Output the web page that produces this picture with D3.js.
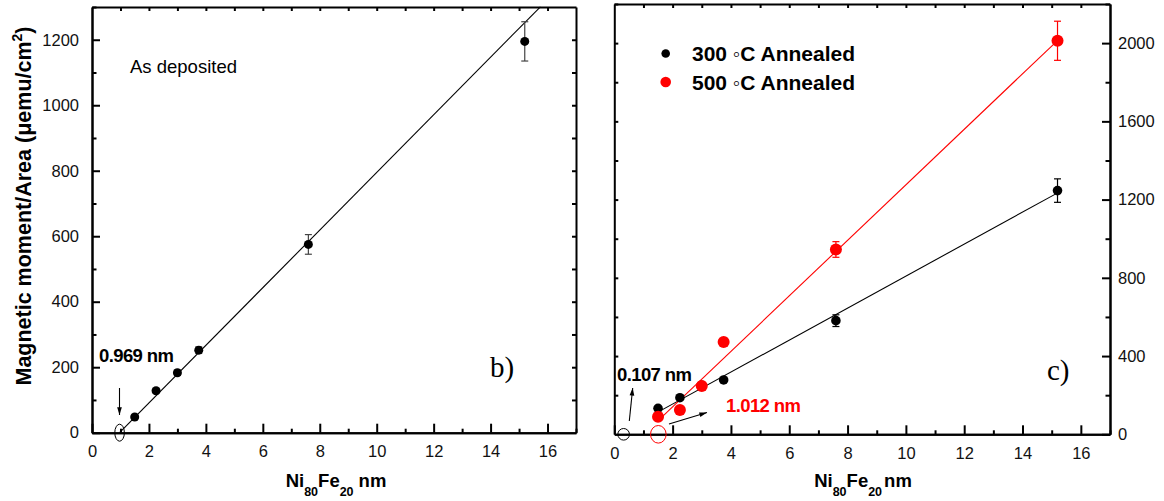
<!DOCTYPE html>
<html>
<head>
<meta charset="utf-8">
<script src="https://cdn.jsdelivr.net/npm/d3@7"></script>
<style>
body { margin: 0; background: #fff; }
svg { display: block; font-family: "Liberation Sans", Arial, sans-serif; }
.axis path, .axis line { stroke: #000; stroke-width: 2; }
.axis text { font-size: 16.5px; fill: #111; }
</style>
</head>
<body>
<svg width="1164" height="501"></svg>
<script>
// Ni80Fe20 thickness (nm) of the samples
var thickness = [1.5, 2.25, 3.0, 3.75, 7.6, 15.2];

// panel b) as deposited
var asDep = [48, 128, 183, 252, 575, 1195];
var asDepErr = [6, 6, 8, 10, 30, 60];

// panel c) annealed
var ann300 = [133, 187, 250, 278, 581, 1246];
var ann300Err = [8, 8, 10, 10, 30, 60];
var ann500 = [90, 124, 247, 472, 945, 2012];
var ann500Err = [8, 8, 10, 12, 40, 100];

// linear fits: x-intercept (dead layer) and slope
var fitAsDep = {x0: 0.969, slope: 88.0, from: 0.969, to: 15.75};
var fit300 = {x0: 0.107, slope: 81.75, from: 1.62, to: 15.19};
var fit500 = {x0: 1.012, slope: 141.9, from: 1.62, to: 15.19};

var xTicks = [0, 2, 4, 6, 8, 10, 12, 14, 16];
var leftTicks = [0, 200, 400, 600, 800, 1000, 1200];
var rightTicks = [0, 400, 800, 1200, 1600, 2000];

var svg = d3.select("svg");
var fmt = d3.format("d");

function range(a, b, s) { return d3.range(a, b + s / 2, s); }

function frame(x, y, opts) {
  var g = svg.append("g");
  var x0 = x.range()[0], x1 = x.range()[1], y0 = y.range()[0], y1 = y.range()[1];

  // bottom
  g.append("g").attr("class", "axis").attr("transform", "translate(0," + y0 + ")")
    .call(d3.axisBottom(x).tickValues(range(1, 17, 2)).tickSize(-4).tickSizeOuter(0).tickFormat(""));
  g.append("g").attr("class", "axis").attr("transform", "translate(0," + y0 + ")")
    .call(d3.axisBottom(x).tickValues(xTicks).tickSize(-9).tickSizeOuter(0).tickPadding(13).tickFormat(fmt));
  // top
  g.append("g").attr("class", "axis").attr("transform", "translate(0," + y1 + ")")
    .call(d3.axisTop(x).tickValues(range(1, 16, 1)).tickSize(-4).tickSizeOuter(0).tickFormat(""));

  if (opts.labelLeft) {
    g.append("g").attr("class", "axis").attr("transform", "translate(" + x0 + ",0)")
      .call(d3.axisLeft(y).tickValues(opts.minor).tickSize(-4.5).tickSizeOuter(0).tickFormat(""));
    g.append("g").attr("class", "axis").attr("transform", "translate(" + x0 + ",0)")
      .call(d3.axisLeft(y).tickValues(opts.major).tickSize(-8).tickSizeOuter(0).tickPadding(13).tickFormat(fmt));
    g.append("g").attr("class", "axis").attr("transform", "translate(" + x1 + ",0)")
      .call(d3.axisRight(y).tickValues(opts.all).tickSize(-4).tickSizeOuter(0).tickFormat(""));
  } else {
    g.append("g").attr("class", "axis").attr("transform", "translate(" + x0 + ",0)")
      .call(d3.axisLeft(y).tickValues(opts.all).tickSize(-4).tickSizeOuter(0).tickFormat(""));
    g.append("g").attr("class", "axis").attr("transform", "translate(" + x1 + ",0)")
      .call(d3.axisRight(y).tickValues(opts.minor).tickSize(-4.5).tickSizeOuter(0).tickFormat(""));
    g.append("g").attr("class", "axis").attr("transform", "translate(" + x1 + ",0)")
      .call(d3.axisRight(y).tickValues(opts.major).tickSize(-8).tickSizeOuter(0).tickPadding(8).tickFormat(fmt));
  }
}

function xLabel(cx, by, gap) {
  var t = svg.append("text").attr("x", cx).attr("y", by).attr("text-anchor", "middle")
    .style("font-size", "18.5px").style("font-weight", "bold");
  t.append("tspan").text("Ni");
  t.append("tspan").attr("dy", 9).style("font-size", "12.5px").text("80");
  t.append("tspan").attr("dy", -9).text("Fe");
  t.append("tspan").attr("dy", 9).style("font-size", "12.5px").text("20");
  t.append("tspan").attr("dy", -9).attr("dx", gap).text("nm");
}

function errBars(g, x, y, xs, ys, es, color) {
  xs.forEach(function(d, i) {
    var cx = x(d), top = y(ys[i] + es[i]), bot = y(ys[i] - es[i]);
    g.append("line").attr("x1", cx).attr("x2", cx).attr("y1", top).attr("y2", bot)
      .attr("stroke", color).attr("stroke-width", 1.2);
    [top, bot].forEach(function(v) {
      g.append("line").attr("x1", cx - 3.5).attr("x2", cx + 3.5).attr("y1", v).attr("y2", v)
        .attr("stroke", color).attr("stroke-width", 1.2);
    });
  });
}

function fitLine(g, x, y, fit, color) {
  g.append("line")
    .attr("x1", x(fit.from)).attr("y1", y(fit.slope * (fit.from - fit.x0)))
    .attr("x2", x(fit.to)).attr("y2", y(fit.slope * (fit.to - fit.x0)))
    .attr("stroke", color).attr("stroke-width", 1.1);
}

function dots(g, x, y, xs, ys, r, color) {
  g.selectAll(null).data(xs).enter().append("circle")
    .attr("cx", function(d) { return x(d); })
    .attr("cy", function(d, i) { return y(ys[i]); })
    .attr("r", r).attr("fill", color);
}

function arrow(x1, y1, x2, y2) {
  svg.append("line").attr("x1", x1).attr("y1", y1).attr("x2", x2).attr("y2", y2)
    .attr("stroke", "#000").attr("stroke-width", 1.1);
  var a = Math.atan2(y2 - y1, x2 - x1), L = 8, w = 0.3;
  svg.append("path")
    .attr("d", "M" + x2 + "," + y2 +
      "L" + (x2 - L * Math.cos(a - w)) + "," + (y2 - L * Math.sin(a - w)) +
      "L" + (x2 - L * Math.cos(a + w)) + "," + (y2 - L * Math.sin(a + w)) + "Z")
    .attr("fill", "#000");
}

function note(x, y, text, color) {
  svg.append("text").attr("x", x).attr("y", y).attr("fill", color)
    .style("font-size", "18.5px").style("font-weight", "bold")
    .style("letter-spacing", "-0.6px").text(text);
}

// ---------- panel b ----------
var xb = d3.scaleLinear().domain([0, 17]).range([92, 576]);
var yb = d3.scaleLinear().domain([0, 1300]).range([432.7, 7]);

frame(xb, yb, {labelLeft: true, major: leftTicks, minor: range(100, 1300, 200), all: range(100, 1200, 100)});

var gb = svg.append("g");
fitLine(gb, xb, yb, fitAsDep, "#000");
errBars(gb, xb, yb, thickness, asDep, asDepErr, "#444");
dots(gb, xb, yb, thickness, asDep, 4.5, "#000");

svg.append("ellipse").attr("cx", xb(0.969)).attr("cy", yb(0)).attr("rx", 4.8).attr("ry", 8.5)
  .attr("fill", "none").attr("stroke", "#000").attr("stroke-width", 1);
arrow(119.5, 388, 119.5, 415);

note(99, 361.5, "0.969 nm", "#000");
svg.append("text").attr("x", 130).attr("y", 73).style("font-size", "18.5px").text("As deposited");
svg.append("text").attr("x", 490).attr("y", 377).style("font-family", "'Liberation Serif', 'Times New Roman', serif")
  .style("font-size", "29px").text("b)");

var yl = svg.append("text").attr("transform", "translate(31,206) rotate(-90)").attr("text-anchor", "middle")
  .style("font-size", "21.5px").style("font-weight", "bold");
yl.append("tspan").text("Magnetic moment/Area (\u03bcemu/cm");
yl.append("tspan").attr("dy", -9).style("font-size", "14px").text("2");
yl.append("tspan").attr("dy", 9).text(")");

xLabel(336, 487, 5);

// ---------- panel c ----------
var xc = d3.scaleLinear().domain([0, 17]).range([614.3, 1110]);
var yc = d3.scaleLinear().domain([0, 2200]).range([434.3, 4]);

frame(xc, yc, {labelLeft: false, major: rightTicks, minor: range(200, 2200, 400), all: range(200, 2200, 200)});

var gc = svg.append("g");
fitLine(gc, xc, yc, fit300, "#000");
fitLine(gc, xc, yc, fit500, "#ff0000");
errBars(gc, xc, yc, thickness, ann300, ann300Err, "#000");
errBars(gc, xc, yc, thickness, ann500, ann500Err, "#ff0000");
dots(gc, xc, yc, thickness, ann300, 4.8, "#000");
dots(gc, xc, yc, thickness, ann500, 6, "#ff0000");

svg.append("circle").attr("cx", xc(0.32)).attr("cy", yc(0)).attr("r", 5.8)
  .attr("fill", "none").attr("stroke", "#000").attr("stroke-width", 1);
svg.append("ellipse").attr("cx", xc(1.51)).attr("cy", yc(0)).attr("rx", 7.8).attr("ry", 8.8)
  .attr("fill", "none").attr("stroke", "#ff0000").attr("stroke-width", 1);
arrow(629.3, 421, 632.7, 388);
arrow(669, 424, 707, 412.5);

note(617, 381, "0.107 nm", "#000");
note(726, 412, "1.012 nm", "#ff0000");
svg.append("text").attr("x", 1047).attr("y", 380).style("font-family", "'Liberation Serif', 'Times New Roman', serif")
  .style("font-size", "29px").text("c)");

// legend
var legend = [{label: "300 \u25e6C Annealed", color: "#000", r: 4.3}, {label: "500 \u25e6C Annealed", color: "#ff0000", r: 5.3}];
legend.forEach(function(d, i) {
  var ly = 53.5 + i * 28.5;
  svg.append("circle").attr("cx", 665.7).attr("cy", ly).attr("r", d.r).attr("fill", d.color);
  svg.append("text").attr("x", 692).attr("y", ly + 7.5).style("font-size", "21px").style("font-weight", "bold")
    .text(d.label);
});

xLabel(863, 487, 2);
</script>
</body>
</html>
